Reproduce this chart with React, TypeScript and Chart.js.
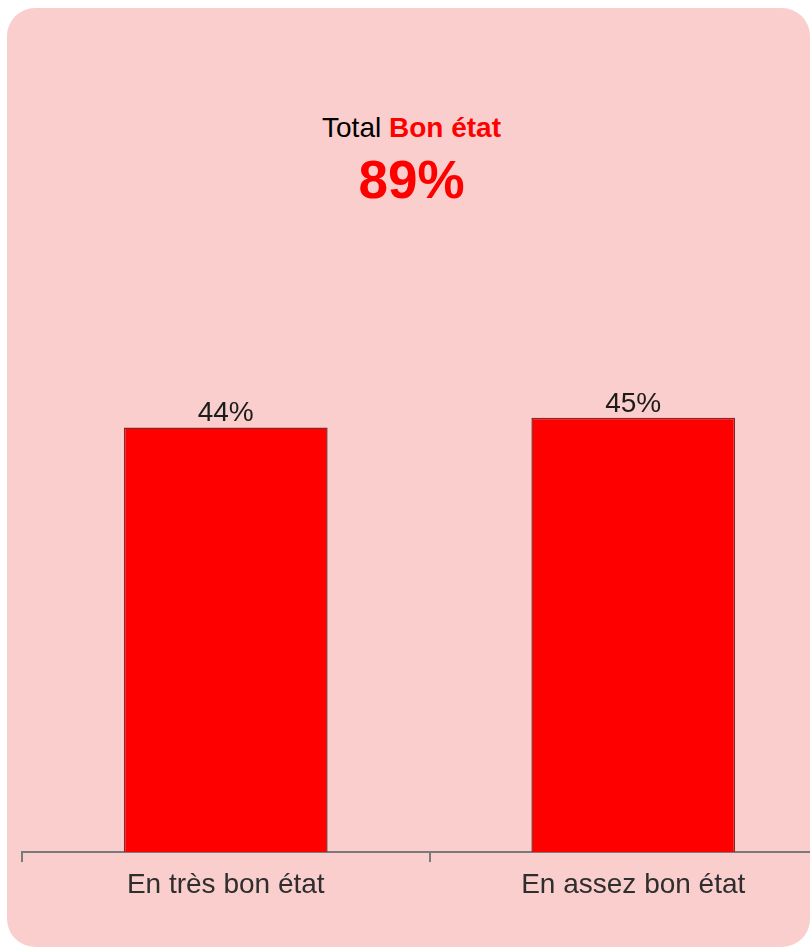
import React, { useEffect, useRef } from 'react';
import { Chart, registerables } from 'chart.js';

Chart.register(...registerables);

const categories = ['En très bon état', 'En assez bon état'];
const values = [44, 45];
const yMin = 0;
const yMax = 49.9;
const titlePrefix = 'Total';
const titleHighlight = 'Bon état';
const totalValue = values.reduce((a, b) => a + b, 0);

const FONT = 'Arial, "Liberation Sans", Helvetica, sans-serif';

const barLabels = {
  id: 'barLabels',
  afterDatasetsDraw(chart: any) {
    const ctx = chart.ctx;
    const meta = chart.getDatasetMeta(0);
    ctx.save();
    ctx.font = `28px ${FONT}`;
    ctx.fillStyle = '#1c1c1c';
    ctx.textAlign = 'center';
    ctx.textBaseline = 'alphabetic';
    meta.data.forEach((el: any, i: number) => {
      const { x, y } = el.getProps(['x', 'y'], true);
      ctx.fillText(`${values[i]}%`, x, y - 6);
    });
    ctx.restore();
  },
};

export default function App() {
  const canvasRef = useRef<HTMLCanvasElement | null>(null);

  useEffect(() => {
    if (!canvasRef.current) return;
    const chart = new Chart(canvasRef.current, {
      type: 'bar',
      data: {
        labels: categories,
        datasets: [
          {
            data: values,
            backgroundColor: '#FF0000',
            borderColor: '#822828',
            borderWidth: 1.5,
            barPercentage: 0.5,
            categoryPercentage: 1.0,
          },
        ],
      },
      options: {
        responsive: false,
        animation: false,
        layout: { padding: { left: 10, right: 10, top: 10.5, bottom: 0 } },
        plugins: {
          legend: { display: false },
          tooltip: { enabled: false },
          title: { display: false },
        },
        scales: {
          y: { display: false, min: yMin, max: yMax },
          x: {
            offset: true,
            afterFit: (scale: any) => {
              scale.height = 60;
            },
            border: { display: true, color: '#7a7a7a', width: 2 },
            grid: {
              display: true,
              offset: true,
              drawOnChartArea: false,
              drawTicks: true,
              tickLength: 10,
              color: '#7a7a7a',
              lineWidth: 2,
            },
            ticks: {
              padding: 6,
              color: '#2e2e2e',
              font: { family: FONT, size: 28 },
              maxRotation: 0,
              autoSkip: false,
            },
          },
        },
      },
      plugins: [barLabels],
    });
    return () => chart.destroy();
  }, []);

  return (
    <div
      style={{
        position: 'absolute',
        left: 7,
        top: 8,
        width: 803,
        height: 939,
        background: '#FBCECE',
        borderRadius: 28,
        overflow: 'hidden',
        fontFamily: FONT,
      }}
    >
      <div
        style={{
          position: 'absolute',
          left: 0,
          top: 106,
          width: 809,
          textAlign: 'center',
          fontSize: 28,
          lineHeight: '28px',
          color: '#000',
          whiteSpace: 'nowrap',
        }}
      >
        {titlePrefix}{' '}
        <span style={{ color: '#FF0000', fontWeight: 'bold' }}>{titleHighlight}</span>
      </div>
      <div
        style={{
          position: 'absolute',
          left: 0,
          top: 145,
          width: 809,
          textAlign: 'center',
          fontSize: 53,
          lineHeight: '53px',
          fontWeight: 'bold',
          color: '#FF0000',
          whiteSpace: 'nowrap',
        }}
      >
        {`${totalValue}%`}
      </div>
      <canvas
        ref={canvasRef}
        width={835}
        height={552}
        style={{ position: 'absolute', left: 5, top: 352, width: 835, height: 552 }}
      />
    </div>
  );
}
